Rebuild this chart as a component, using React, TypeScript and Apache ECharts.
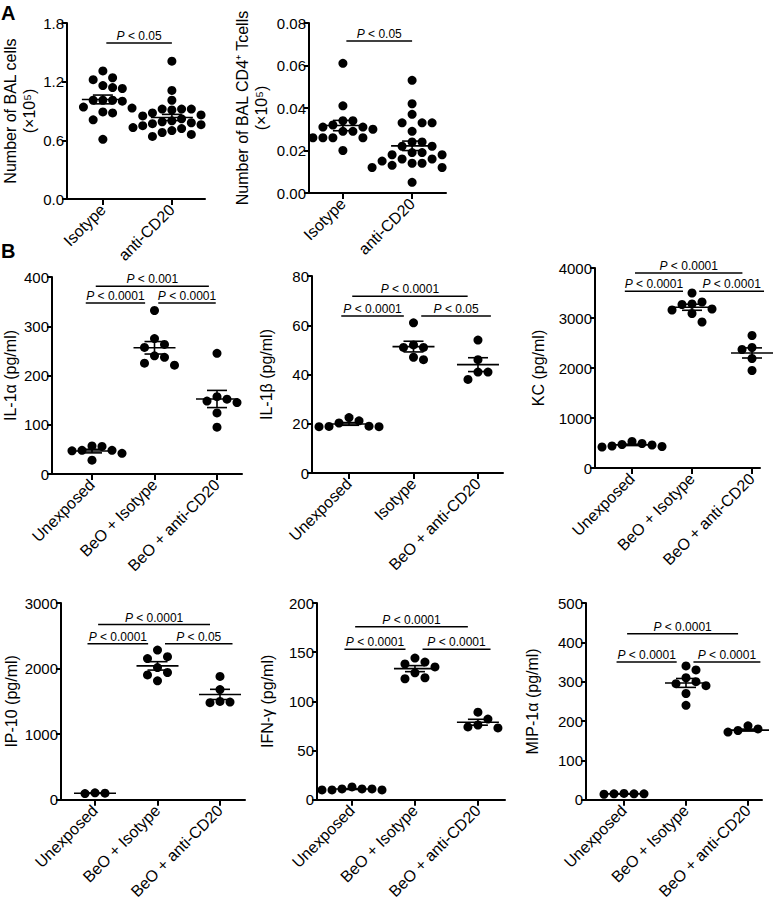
import React, { useEffect, useRef } from "react";
import * as echarts from "echarts";

// ---------- categories ----------
const catsA = ["Isotype", "anti-CD20"];
const catsB = ["Unexposed", "BeO + Isotype", "BeO + anti-CD20"];
const catsIL1b = ["Unexposed", "Isotype", "BeO + anti-CD20"];

// ---------- panel A values ----------
const balIsotype = [1.31, 1.24, 1.22, 1.16, 1.14, 1.13, 1.01, 1.01, 1.01, 1.0, 0.94, 0.93, 0.89, 0.88, 0.81, 0.61];
const balAntiCD20 = [1.41, 1.11, 1.01, 0.92, 0.92, 0.92, 0.91, 0.88, 0.86, 0.85, 0.84, 0.82, 0.8, 0.79, 0.78, 0.77, 0.76, 0.75, 0.74, 0.73, 0.72, 0.71, 0.7, 0.68, 0.66, 0.64];
const cd4Isotype = [0.061, 0.041, 0.034, 0.034, 0.032, 0.031, 0.031, 0.03, 0.029, 0.029, 0.026, 0.026, 0.026, 0.026, 0.02];
const cd4AntiCD20 = [0.053, 0.042, 0.037, 0.033, 0.033, 0.033, 0.029, 0.024, 0.024, 0.022, 0.022, 0.019, 0.019, 0.018, 0.018, 0.016, 0.016, 0.015, 0.014, 0.014, 0.013, 0.012, 0.012, 0.012, 0.005];

// ---------- panel B values ----------
const il1aUnexposed = [57, 56, 48, 48, 47, 42, 28];
const il1aIsotype = [332, 275, 263, 257, 240, 237, 225, 221];
const il1aAntiCD20 = [245, 157, 152, 148, 145, 124, 95];

const il1bUnexposed = [22.5, 21.2, 20.3, 19.0, 18.8, 18.8, 18.9];
const il1bIsotype = [61, 52, 51, 51, 47, 46];
const il1bAntiCD20 = [54, 46, 41, 41, 38];

const kcUnexposed = [530, 490, 470, 460, 440, 430, 420];
const kcIsotype = [3500, 3320, 3280, 3270, 3180, 3160, 3090, 2920];
const kcAntiCD20 = [2650, 2600, 2410, 2390, 2370, 2190, 1950, 1850];

const ip10Unexposed = [105, 100, 95];
const ip10Isotype = [2283, 2182, 2152, 2015, 1940, 1904, 1813];
const ip10AntiCD20 = [1880, 1680, 1500, 1490, 1480];

const ifnUnexposed = [13, 11, 11, 11, 10, 10, 10];
const ifnIsotype = [144, 140, 138, 135, 129, 124, 123];
const ifnAntiCD20 = [89, 82, 76, 74, 73];

const mipUnexposed = [16, 15, 15, 15, 14];
const mipIsotype = [340, 330, 310, 300, 295, 290, 270, 240];
const mipAntiCD20 = [188, 180, 176, 174, 172, 172];

// ---------- significance labels and bar heights (top, left, right) ----------
const pBal = ["P < 0.05"];
const sigBal = [1.595];
const pCd4 = ["P < 0.05"];
const sigCd4 = [0.0715];
const pIl1a = ["P < 0.001", "P < 0.0001", "P < 0.0001"];
const sigIl1a = [381, 347, 347];
const pIl1b = ["P < 0.0001", "P < 0.0001", "P < 0.05"];
const sigIl1b = [71.8, 63.8, 63.8];
const pKc = ["P < 0.0001", "P < 0.0001", "P < 0.0001"];
const sigKc = [3900, 3533, 3533];
const pIp10 = ["P < 0.0001", "P < 0.0001", "P < 0.05"];
const sigIp10 = [2672, 2379, 2379];
const pIfn = ["P < 0.0001", "P < 0.0001", "P < 0.0001"];
const sigIfn = [175.8, 152.9, 152.9];
const pMip = ["P < 0.0001", "P < 0.0001", "P < 0.0001"];
const sigMip = [422, 350, 350];

const FONT = "'Liberation Sans', Arial, Helvetica, sans-serif";

type Panel = {
  grid: { left: number; top: number; width: number; height: number };
  xMin: number;
  xMax: number;
  yMax: number;
  yInterval: number;
  decimals: number;
  cats: string[];
  groups: number[][];
  yName: string;
  nameGap: number;
  sigY: number[];
  sigText: string[];
  spans: number[][];
};

const spansA = [[0.05, 1.0]];
const spansB = [
  [0.05, 1.84],
  [-0.12, 0.85],
  [1.12, 2.2],
];

const panels: Panel[] = [
  {
    grid: { left: 63, top: 23, width: 142, height: 176 },
    xMin: -0.52, xMax: 1.48, yMax: 1.8, yInterval: 0.6, decimals: 1,
    cats: catsA, groups: [balIsotype, balAntiCD20],
    yName: "Number of BAL cells\n(×10⁵)", nameGap: 28,
    sigY: sigBal, sigText: pBal, spans: spansA,
  },
  {
    grid: { left: 309, top: 23, width: 137, height: 170 },
    xMin: -0.49, xMax: 1.49, yMax: 0.08, yInterval: 0.02, decimals: 2,
    cats: catsA, groups: [cd4Isotype, cd4AntiCD20],
    yName: "Number of BAL CD4⁺ Tcells\n(×10⁵)", nameGap: 38,
    sigY: sigCd4, sigText: pCd4, spans: spansA,
  },
  {
    grid: { left: 52, top: 277, width: 190, height: 197 },
    xMin: -0.64, xMax: 2.4, yMax: 400, yInterval: 100, decimals: 0,
    cats: catsB, groups: [il1aUnexposed, il1aIsotype, il1aAntiCD20],
    yName: "IL-1α (pg/ml)", nameGap: 29,
    sigY: sigIl1a, sigText: pIl1a, spans: [[0.06, 1.87], [-0.1, 0.85], [1.06, 1.98]],
  },
  {
    grid: { left: 312, top: 276, width: 191, height: 197 },
    xMin: -0.574, xMax: 2.388, yMax: 80, yInterval: 20, decimals: 0,
    cats: catsIL1b, groups: [il1bUnexposed, il1bIsotype, il1bAntiCD20],
    yName: "IL-1β (pg/ml)", nameGap: 36,
    sigY: sigIl1b, sigText: pIl1b, spans: spansB,
  },
  {
    grid: { left: 595, top: 268, width: 165, height: 200 },
    xMin: -0.617, xMax: 2.133, yMax: 4000, yInterval: 1000, decimals: 0,
    cats: catsB, groups: [kcUnexposed, kcIsotype, kcAntiCD20],
    yName: "KC (pg/ml)", nameGap: 47,
    sigY: sigKc, sigText: pKc, spans: spansB,
  },
  {
    grid: { left: 61, top: 603, width: 184, height: 198 },
    xMin: -0.544, xMax: 2.4, yMax: 3000, yInterval: 1000, decimals: 0,
    cats: catsB, groups: [ip10Unexposed, ip10Isotype, ip10AntiCD20],
    yName: "IP-10 (pg/ml)", nameGap: 38,
    sigY: sigIp10, sigText: pIp10, spans: spansB,
  },
  {
    grid: { left: 317, top: 603, width: 188, height: 198 },
    xMin: -0.556, xMax: 2.43, yMax: 200, yInterval: 50, decimals: 0,
    cats: catsB, groups: [ifnUnexposed, ifnIsotype, ifnAntiCD20],
    yName: "IFN-γ (pg/ml)", nameGap: 40,
    sigY: sigIfn, sigText: pIfn, spans: spansB,
  },
  {
    grid: { left: 586, top: 603, width: 176, height: 200 },
    xMin: -0.613, xMax: 2.226, yMax: 500, yInterval: 100, decimals: 0,
    cats: catsB, groups: [mipUnexposed, mipIsotype, mipAntiCD20],
    yName: "MIP-1α (pg/ml)", nameGap: 44,
    sigY: sigMip, sigText: pMip, spans: spansB,
  },
];

function swarm(vals: number[], center: number, xs: number, ys: number, d: number) {
  const order = vals.map((_, i) => i).sort((a, b) => vals[b] - vals[a]);
  const placed: { px: number; py: number }[] = [];
  const out: number[][] = [];
  for (const idx of order) {
    const py = vals[idx] * ys;
    let chosen = 0;
    for (let k = 0; k < 60; k++) {
      const step = Math.ceil(k / 2);
      const off = k === 0 ? 0 : (k % 2 === 1 ? step : -step) * d;
      if (placed.every((q) => Math.hypot(q.px - off, q.py - py) >= d * 0.95)) {
        chosen = off;
        break;
      }
    }
    placed.push({ px: chosen, py });
    out.push([center + chosen / xs, vals[idx]]);
  }
  return out;
}

function meanSem(vals: number[]) {
  const n = vals.length;
  const m = vals.reduce((a, b) => a + b, 0) / n;
  const sd = Math.sqrt(vals.reduce((a, b) => a + (b - m) * (b - m), 0) / (n - 1));
  return [m, sd / Math.sqrt(n)];
}

function buildOption() {
  const series: any[] = [];
  panels.forEach((p, i) => {
    const xs = p.grid.width / (p.xMax - p.xMin);
    const ys = p.grid.height / p.yMax;
    const pts: number[][] = [];
    const stats: number[][] = [];
    p.groups.forEach((g, gi) => {
      swarm(g, gi, xs, ys, 10).forEach((q) => pts.push(q));
      const [m, s] = meanSem(g);
      stats.push([gi, m, s]);
    });
    series.push({
      type: "scatter",
      xAxisIndex: i,
      yAxisIndex: i,
      data: pts,
      symbol: "circle",
      symbolSize: 9,
      itemStyle: { color: "#000", opacity: 1 },
      z: 2,
      silent: true,
    });
    series.push({
      type: "custom",
      xAxisIndex: i,
      yAxisIndex: i,
      data: stats,
      encode: { x: 0, y: 1 },
      z: 3,
      silent: true,
      renderItem: (_params: any, api: any) => {
        const x = api.value(0);
        const m = api.value(1);
        const s = api.value(2);
        const c = api.coord([x, m]);
        const t = api.coord([x, m + s]);
        const b = api.coord([x, m - s]);
        const st = { stroke: "#000", lineWidth: 1.6 };
        return {
          type: "group",
          children: [
            { type: "line", shape: { x1: c[0] - 21, y1: c[1], x2: c[0] + 21, y2: c[1] }, style: st },
            { type: "line", shape: { x1: c[0], y1: t[1], x2: c[0], y2: b[1] }, style: st },
            { type: "line", shape: { x1: c[0] - 10, y1: t[1], x2: c[0] + 10, y2: t[1] }, style: st },
            { type: "line", shape: { x1: c[0] - 10, y1: b[1], x2: c[0] + 10, y2: b[1] }, style: st },
          ],
        };
      },
    });
    const sigData = p.sigY.map((y, k) => [p.spans[k][0], p.spans[k][1], y]);
    const texts = p.sigText;
    series.push({
      type: "custom",
      xAxisIndex: i,
      yAxisIndex: i,
      data: sigData,
      encode: { x: [0, 1], y: 2 },
      z: 4,
      silent: true,
      renderItem: (params: any, api: any) => {
        const y = api.value(2);
        const p1 = api.coord([api.value(0), y]);
        const p2 = api.coord([api.value(1), y]);
        const raw = texts[params.dataIndex];
        const rest = raw.replace(/^P/, "");
        return {
          type: "group",
          children: [
            { type: "line", shape: { x1: p1[0], y1: p1[1], x2: p2[0], y2: p2[1] }, style: { stroke: "#000", lineWidth: 1.5 } },
            {
              type: "text",
              x: (p1[0] + p2[0]) / 2,
              y: p1[1] - 1,
              style: {
                text: "{i|P}" + rest,
                align: "center",
                verticalAlign: "bottom",
                fontSize: 12,
                fontFamily: FONT,
                fill: "#000",
                rich: { i: { fontStyle: "italic", fontSize: 12, fontFamily: FONT, fill: "#000" } },
              },
            },
          ],
        };
      },
    });
  });

  return {
    animation: false,
    backgroundColor: "#fff",
    textStyle: { fontFamily: FONT },
    grid: panels.map((p) => ({ ...p.grid, containLabel: false })),
    xAxis: panels.map((p, i) => {
      const ticks = p.cats.map((_, k) => k);
      return {
        type: "value",
        gridIndex: i,
        min: p.xMin,
        max: p.xMax,
        splitLine: { show: false },
        axisLine: { show: true, onZero: false, lineStyle: { color: "#000", width: 2 } },
        axisTick: { show: true, customValues: ticks, length: 6, lineStyle: { color: "#000", width: 2 } },
        axisLabel: {
          customValues: ticks,
          rotate: 45,
          margin: 8,
          color: "#000",
          fontSize: 16,
          fontFamily: FONT,
          formatter: (v: number) => p.cats[Math.round(v)] ?? "",
        },
      };
    }),
    yAxis: panels.map((p, i) => ({
      type: "value",
      gridIndex: i,
      min: 0,
      max: p.yMax,
      interval: p.yInterval,
      splitLine: { show: false },
      axisLine: { show: true, onZero: false, lineStyle: { color: "#000", width: 2 } },
      axisTick: { show: true, length: 5, lineStyle: { color: "#000", width: 2 } },
      axisLabel: {
        margin: 3,
        color: "#000",
        fontSize: 15,
        fontFamily: FONT,
        formatter: (v: number) => v.toFixed(p.decimals),
      },
      name: p.yName,
      nameLocation: "middle",
      nameRotate: 90,
      nameGap: p.nameGap,
      nameTextStyle: { color: "#000", fontSize: 16, fontFamily: FONT, lineHeight: 19 },
    })),
    graphic: [
      { type: "text", left: 1, top: 3, style: { text: "A", fontSize: 20, fontWeight: "bold", fontFamily: FONT, fill: "#000" } },
      { type: "text", left: 1, top: 241, style: { text: "B", fontSize: 20, fontWeight: "bold", fontFamily: FONT, fill: "#000" } },
    ],
    series,
  };
}

export default function App() {
  const ref = useRef<HTMLDivElement>(null);
  useEffect(() => {
    if (!ref.current) return;
    const chart = echarts.init(ref.current, undefined, { renderer: "svg" });
    chart.setOption(buildOption() as any);
    return () => chart.dispose();
  }, []);
  return (
    <div
      ref={ref}
      style={{ position: "absolute", left: 0, top: 0, width: 775, height: 902, background: "#fff" }}
    />
  );
}
